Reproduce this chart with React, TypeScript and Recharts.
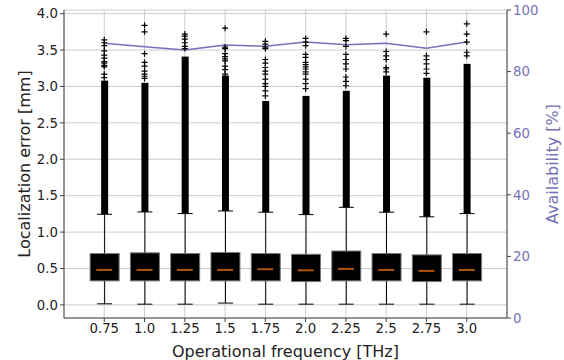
import {
  Bar,
  CartesianGrid,
  ComposedChart,
  Line,
  Scatter,
  XAxis,
  YAxis,
} from "recharts";

const freqLabels = ["0.75", "1.0", "1.25", "1.5", "1.75", "2.0", "2.25", "2.5", "2.75", "3.0"];
const q1 = [0.33, 0.33, 0.33, 0.33, 0.33, 0.32, 0.33, 0.33, 0.32, 0.33];
const q3 = [0.705, 0.715, 0.705, 0.72, 0.705, 0.695, 0.74, 0.705, 0.687, 0.705];
const medians = [0.48, 0.48, 0.48, 0.48, 0.49, 0.475, 0.495, 0.48, 0.467, 0.48];
const whiskerLo = [0.015, 0.01, 0.01, 0.025, 0.01, 0.01, 0.01, 0.01, 0.01, 0.01];
const whiskerHi = [1.245, 1.277, 1.254, 1.29, 1.273, 1.24, 1.34, 1.273, 1.21, 1.254];
// fliers overlap into a solid column from the whisker up to here
const denseTop = [3.08, 3.05, 3.41, 3.15, 2.8, 2.87, 2.94, 3.15, 3.12, 3.31];
// the sparse outliers above the solid column
const fliers = [
  [3.64, 3.6, 3.56, 3.49, 3.43, 3.39, 3.34, 3.32, 3.29, 3.27, 3.17, 3.12],
  [3.84, 3.75, 3.45, 3.33, 3.28, 3.21, 3.17, 3.14, 3.11],
  [3.72, 3.69, 3.65, 3.6, 3.55, 3.52],
  [3.8, 3.54, 3.52, 3.45, 3.41, 3.38, 3.35, 3.28, 3.23, 3.17],
  [3.62, 3.58, 3.54, 3.52, 3.37, 3.32, 3.26, 3.21, 3.17, 3.1, 3.04, 3.0, 2.94, 2.87],
  [3.66, 3.61, 3.56, 3.44, 3.4, 3.33, 3.3, 3.27, 3.24, 3.2, 3.17, 3.1, 3.04, 2.97],
  [3.66, 3.63, 3.55, 3.44, 3.37, 3.31, 3.24, 3.13, 3.07, 3.01],
  [3.72, 3.48, 3.42, 3.37, 3.26, 3.24, 3.2],
  [3.75, 3.42, 3.37, 3.31, 3.24, 3.18],
  [3.86, 3.72, 3.61, 3.47, 3.42],
];
const availability = [89.2, 88.1, 87.0, 88.6, 88.2, 89.6, 88.7, 89.2, 87.6, 89.6];
const leftTicks = [0, 0.5, 1.0, 1.5, 2.0, 2.5, 3.0, 3.5, 4.0];
const rightTicks = [0, 20, 40, 60, 80, 100];

const rows = freqLabels.map((label, i) => ({
  pos: i + 1,
  label,
  box: [q1[i], q3[i]],
  whisk: [whiskerLo[i], whiskerHi[i]],
  dense: [whiskerHi[i], denseTop[i]],
  median: medians[i],
  avail: availability[i],
}));
const flierRows = fliers.flatMap((vals, i) => vals.map((v) => ({ pos: i + 1, v })));
const posTicks = rows.map((r) => r.pos);

const PURPLE = "#7570b8";
const SPINE = "#444";
const TEXT = "#222";

function span(p: any) {
  const top = Math.min(p.y, p.y + p.height);
  const bot = Math.max(p.y, p.y + p.height);
  return { top, bot };
}

const BoxShape = (p: any) => {
  const { top, bot } = span(p);
  return <rect x={p.x} y={top} width={p.width} height={bot - top} fill="#000" stroke="#777" strokeWidth={1} />;
};

const WhiskerShape = (p: any) => {
  const { top, bot } = span(p);
  const cx = p.x + p.width / 2;
  return (
    <g stroke="#000" strokeWidth={1}>
      <line x1={cx} x2={cx} y1={top} y2={bot} />
      <line x1={p.x} x2={p.x + p.width} y1={top} y2={top} />
      <line x1={p.x} x2={p.x + p.width} y1={bot} y2={bot} />
    </g>
  );
};

const DenseShape = (p: any) => {
  const { top, bot } = span(p);
  return <rect x={p.x} y={top} width={p.width} height={bot - top} fill="#000" />;
};

const MedianShape = (p: any) => (
  <line x1={p.cx - 8} x2={p.cx + 8} y1={p.cy} y2={p.cy} stroke="#b0560c" strokeWidth={2} />
);

const PlusShape = (p: any) => (
  <path
    d={`M${p.cx - 3},${p.cy}H${p.cx + 3}M${p.cx},${p.cy - 3}V${p.cy + 3}`}
    stroke="#000"
    strokeWidth={1.2}
    fill="none"
  />
);

const hiddenX = (id: string) => (
  <XAxis xAxisId={id} hide type="number" dataKey="pos" domain={[0, 11]} ticks={posTicks} />
);

export default function App() {
  return (
    <div style={{ position: "absolute", left: 0, top: 0, width: 564, height: 360, background: "#fff" }}>
      <ComposedChart
        width={564}
        height={360}
        data={rows}
        margin={{ top: 10, right: 0, bottom: 0, left: 0 }}
        style={{ fontFamily: "DejaVu Sans" }}
      >
        <CartesianGrid stroke="#cccccc" strokeWidth={1} />
        <XAxis
          type="number"
          dataKey="pos"
          domain={[0, 11]}
          ticks={posTicks}
          tickFormatter={(v: number) => freqLabels[v - 1]}
          height={42}
          tickSize={4}
          stroke={SPINE}
          tick={{ fontSize: 13.3, fill: TEXT }}
          label={{ value: "Operational frequency [THz]", position: "insideBottom", offset: 3, fontSize: 16, fill: TEXT }}
        />
        <XAxis
          xAxisId="top"
          orientation="top"
          type="number"
          dataKey="pos"
          domain={[0, 11]}
          height={0}
          tick={false}
          tickLine={false}
          stroke={SPINE}
        />
        {hiddenX("dense")}
        {hiddenX("whisk")}
        {hiddenX("box")}
        <YAxis
          type="number"
          domain={[-0.18, 4.05]}
          ticks={leftTicks}
          tickFormatter={(v: number) => v.toFixed(1)}
          width={64}
          tickSize={4}
          stroke={SPINE}
          tick={{ fontSize: 13.3, fill: TEXT }}
          allowDataOverflow
          label={{
            value: "Localization error [mm]",
            angle: -90,
            position: "insideLeft",
            offset: 24,
            fontSize: 16,
            fill: TEXT,
            style: { textAnchor: "middle" },
          }}
        />
        <YAxis
          yAxisId="right"
          orientation="right"
          type="number"
          domain={[0, 100]}
          ticks={rightTicks}
          width={57}
          tickSize={4}
          stroke={SPINE}
          tick={{ fontSize: 13.3, fill: PURPLE }}
          label={{
            value: "Availability [%]",
            angle: -90,
            position: "insideRight",
            offset: 12,
            fontSize: 16,
            fill: PURPLE,
            style: { textAnchor: "middle" },
          }}
        />
        <Bar xAxisId="dense" dataKey="dense" barSize={7} shape={DenseShape} isAnimationActive={false} />
        <Bar xAxisId="whisk" dataKey="whisk" barSize={15} shape={WhiskerShape} isAnimationActive={false} />
        <Bar xAxisId="box" dataKey="box" barSize={29} shape={BoxShape} isAnimationActive={false} />
        <Scatter dataKey="median" shape={MedianShape} isAnimationActive={false} />
        <Scatter data={flierRows} dataKey="v" shape={PlusShape} isAnimationActive={false} />
        <Line
          yAxisId="right"
          dataKey="avail"
          stroke={PURPLE}
          strokeWidth={1.5}
          dot={false}
          isAnimationActive={false}
        />
      </ComposedChart>
    </div>
  );
}
